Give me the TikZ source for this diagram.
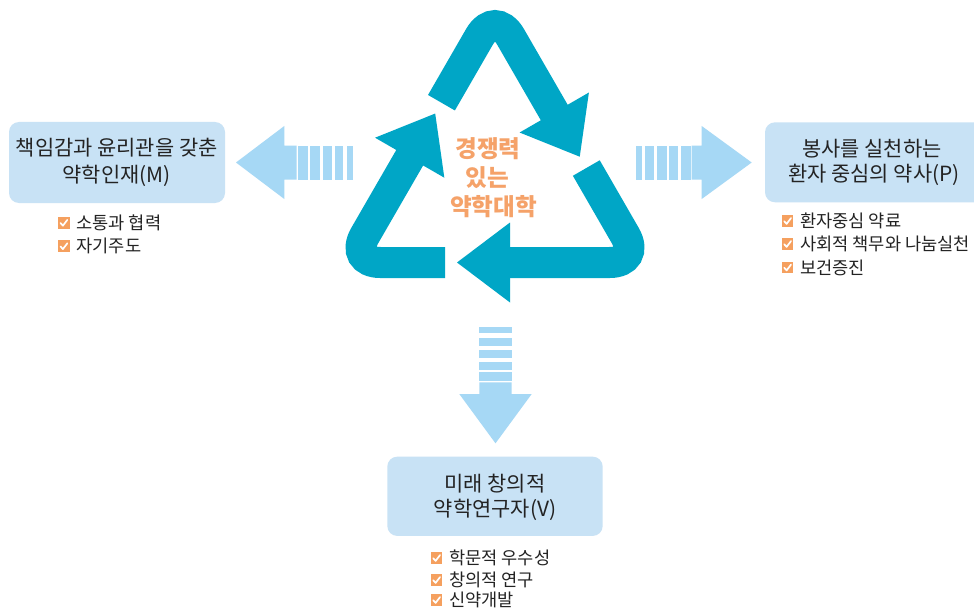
\documentclass[tikz,border=0pt]{standalone}
\usepackage{fontspec}
\setmainfont{Noto Sans CJK KR}
\definecolor{tealc}{RGB}{0,166,198}
\definecolor{arrowblue}{RGB}{166,216,245}
\definecolor{boxblue}{RGB}{200,226,245}
\definecolor{centerorange}{RGB}{245,162,105}
\definecolor{chkorange}{RGB}{245,160,95}
\definecolor{textgray}{RGB}{35,35,35}
\tikzset{
  band/.style={draw=tealc, line width=31pt, rounded corners=31pt, line cap=butt, line join=miter},
  headfill/.style={fill=tealc},
  bluebox/.style={rectangle, rounded corners=10pt, fill=boxblue, inner sep=0pt},
  boxtext/.style={inner sep=0pt, text=textgray, font=\fontsize{20.9}{20.9}\selectfont, text height=16.7pt, text depth=1pt},
  centertext/.style={inner sep=0pt, text=centerorange, font=\bfseries\fontsize{23.6}{23.6}\selectfont, text height=18.9pt, text depth=1.1pt},
  item/.style={anchor=west, inner sep=0pt, text=textgray, font=\fontsize{17.6}{17.6}\selectfont, text height=14.1pt, text depth=0.9pt},
  chkbox/.style={rectangle, fill=chkorange, minimum size=11.5pt, inner sep=0pt},
  tick/.style={draw=white, line width=1.7pt, line cap=round, line join=round},
  lightarrow/.style={fill=arrowblue}
}
\newcommand\chkitem[4]{%
  \node[chkbox] (#1b) at (#2,#3) {};
  \draw[tick] ([shift={(-3.3,0.2)}]#1b.center) -- ++(2.4,2.7) -- ++(4.4,-5.8);
  \node[item] (#1) at ([xshift=6.5pt]#1b.east) {#4};
}
\begin{document}
\begin{tikzpicture}[x=1pt,y=-1pt]
\useasboundingbox (0,0) rectangle (974,615);
\clip (0,0) rectangle (974,615);
\fill[white] (0,0) rectangle (974,615);

% recycle triangle
\coordinate (A) at (495,9.9);
\coordinate (B) at (640.8,262.5);
\coordinate (C) at (349.2,262.5);
\coordinate (T1) at (441.45,102.72);
\coordinate (E1) at (557.5,118.15);
\coordinate (T2) at (586.3,168.03);
\coordinate (E2) at (504,262.5);
\coordinate (T3) at (445,262.5);
\coordinate (E3) at (412.7,152.52);
\draw[band] (T1) -- (A) -- (E1);
\fill[headfill] (588.89,92.52) -- (579.75,156.69) -- (519.61,132.52) -- cycle;
\draw[band] (T2) -- (B) -- (E2);
\fill[headfill] (510,222.5) -- (457,262.5) -- (510,302.5) -- cycle;
\draw[band] (T3) -- (C) -- (E3);
\fill[headfill] (444.34,177.71) -- (435.2,113.55) -- (375.06,137.71) -- cycle;

% center text
\node[centertext] (c1) at (488,149) {경쟁력};
\node[centertext] (c2) at (487,177.5) {있는};
\node[centertext] (c3) at (493.5,207) {약학대학};

% left striped arrow
\fill[lightarrow] (236,162.5) -- (284.3,126) -- (284.3,145.5) -- (296.7,145.5) -- (296.7,179.5) -- (284.3,179.5) -- (284.3,199) -- cycle;
\fill[lightarrow] (297.7,145.5) rectangle (308.3,179.5);
\fill[lightarrow] (310,145.5) rectangle (320,179.5);
\fill[lightarrow] (322.7,145.5) rectangle (331.7,179.5);
\fill[lightarrow] (335,145.5) rectangle (343.3,179.5);
\fill[lightarrow] (347.3,145.5) rectangle (353,179.5);

% right striped arrow
\fill[lightarrow] (636,145.5) rectangle (641.7,179.5);
\fill[lightarrow] (645,145.5) rectangle (654,179.5);
\fill[lightarrow] (657.3,145.5) rectangle (666.7,179.5);
\fill[lightarrow] (669.3,145.5) rectangle (678.3,179.5);
\fill[lightarrow] (680.7,145.5) rectangle (690.7,179.5);
\fill[lightarrow] (691.7,145.5) -- (701.7,145.5) -- (701.7,126) -- (751.7,162.5) -- (701.7,199) -- (701.7,179.5) -- (691.7,179.5) -- cycle;

% down striped arrow
\fill[lightarrow] (479.3,327.3) rectangle (511.7,333.3);
\fill[lightarrow] (479.3,338.3) rectangle (511.7,346);
\fill[lightarrow] (479.3,350) rectangle (511.7,358.3);
\fill[lightarrow] (479.3,361.7) rectangle (511.7,370);
\fill[lightarrow] (479.3,371.7) rectangle (511.7,381);
\fill[lightarrow] (479.3,382.3) -- (511.7,382.3) -- (511.7,394) -- (531.7,394) -- (495.5,443.3) -- (459.3,394) -- (479.3,394) -- cycle;

% boxes
\node[bluebox, minimum width=216pt, minimum height=81pt] (mbox) at (117,162.5) {};
\node[boxtext] (m1) at (116.7,148) {책임감과 윤리관을 갖춘};
\node[boxtext] (m2) at (116.7,174.5) {약학인재(M)};

\node[bluebox, minimum width=222pt, minimum height=80pt] (pbox) at (876,162.3) {};
\node[boxtext] (p1) at (872,149) {봉사를 실천하는};
\node[boxtext] (p2) at (874,174) {환자 중심의 약사(P)};

\node[bluebox, minimum width=215.4pt, minimum height=79.3pt] (vbox) at (495,496.3) {};
\node[boxtext] (v1) at (495,484) {미래 창의적};
\node[boxtext] (v2) at (495,509) {약학연구자(V)};

% check lists
\chkitem{ma}{63.8}{222.8}{소통과 협력}
\chkitem{mb}{63.8}{246.2}{자기주도}

\chkitem{pa}{787.5}{221}{환자중심 약료}
\chkitem{pb}{787.5}{244}{사회적 책무와 나눔실천}
\chkitem{pc}{787.5}{267.5}{보건증진}

\chkitem{va}{436.5}{558}{학문적 우수성}
\chkitem{vb}{436.5}{580}{창의적 연구}
\chkitem{vc}{436.5}{600}{신약개발}
\end{tikzpicture}
\end{document}
